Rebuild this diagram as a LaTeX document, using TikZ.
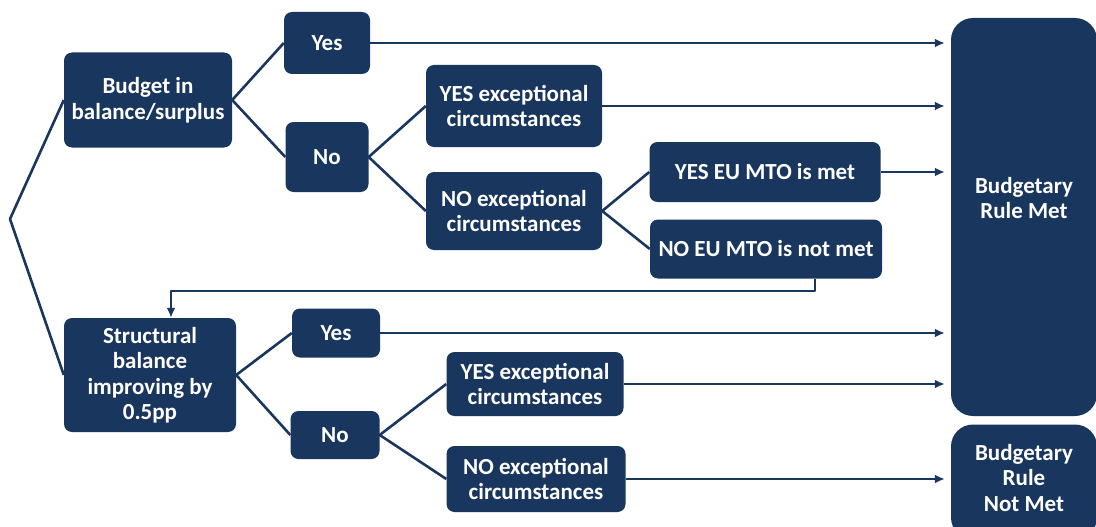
\documentclass[tikz,border=0pt]{standalone}
\usepackage{fontspec}
\setmainfont{Carlito}
\usetikzlibrary{arrows.meta}
\definecolor{navy}{RGB}{25,54,94}
\begin{document}
\begin{tikzpicture}[x=1pt,y=-1pt,line join=round,
  box/.style={fill=navy,rounded corners=8pt,text=white,align=center,inner sep=0pt,
    font=\fontsize{23}{25.5}\selectfont\bfseries},
  txt/.style={text=white,align=center,font=\fontsize{23}{25.5}\selectfont\bfseries},
  link/.style={navy,line width=2.6pt},
  arr/.style={navy,line width=2pt,-{Latex[length=10pt,width=9pt]}}]
\useasboundingbox (0,0) rectangle (1096,527);
% first branch
\node[box,minimum width=168,minimum height=95] (budget) at (148,100) {Budget in\\balance/surplus};
\node[box,minimum width=86,minimum height=62] (yesa) at (327,43) {Yes};
\node[box,minimum width=83,minimum height=70] (noa) at (327,157) {No};
\node[box,minimum width=176,minimum height=82] (yesexa) at (514,106) {YES exceptional\\circumstances};
\node[box,minimum width=176,minimum height=78] (noexa) at (514,211) {NO exceptional\\circumstances};
\node[box,minimum width=231,minimum height=60] (yeseu) at (765,172) {YES EU MTO is met};
\node[box,minimum width=232,minimum height=59] (noeu) at (766,249) {NO EU MTO is not met};
% second branch
\node[box,minimum width=172,minimum height=114] (struct) at (150,375) {Structural\\balance\\improving by\\0.5pp};
\node[box,minimum width=88,minimum height=49] (yesb) at (336,333) {Yes};
\node[box,minimum width=89,minimum height=48] (nob) at (335,435) {No};
\node[box,minimum width=177,minimum height=64] (yesexb) at (535,384) {YES exceptional\\circumstances};
\node[box,minimum width=179,minimum height=66] (noexb) at (536,479) {NO exceptional\\circumstances};
% outcomes
\node[box,rounded corners=22pt,minimum width=146,minimum height=398] (met) at (1024,217) {};
\node[txt] (metlbl) at (1024,198) {Budgetary\\Rule Met};
\node[box,rounded corners=22pt,minimum width=146,minimum height=115] (notmet) at (1024,482) {};
\node[txt] (notmetlbl) at (1024,478) {Budgetary\\Rule\\Not Met};
\coordinate (fork) at (10,219);
% tree lines
\draw[link] (budget.west) -- (fork) -- (struct.west);
\draw[link] (yesa.west) -- (budget.east) -- (noa.west);
\draw[link] (yesexa.west) -- (noa.east) -- (noexa.west);
\draw[link] (yeseu.west) -- (noexa.east) -- (noeu.west);
\draw[link] (yesb.west) -- (struct.east) -- (nob.west);
\draw[link] (yesexb.west) -- (nob.east) -- (noexb.west);
% arrows to outcomes
\foreach \n in {yesa,yesexa,yeseu,yesb,yesexb}
  \draw[arr,shorten >=6pt] (\n.east) -- (\n.east -| met.west);
\draw[arr,shorten >=6pt] (noexb.east) -- (noexb.east -| notmet.west);
\draw[arr] ([xshift=49pt]noeu.south) -- ++(0,12) -| ([xshift=21pt]struct.north);
\end{tikzpicture}
\end{document}
